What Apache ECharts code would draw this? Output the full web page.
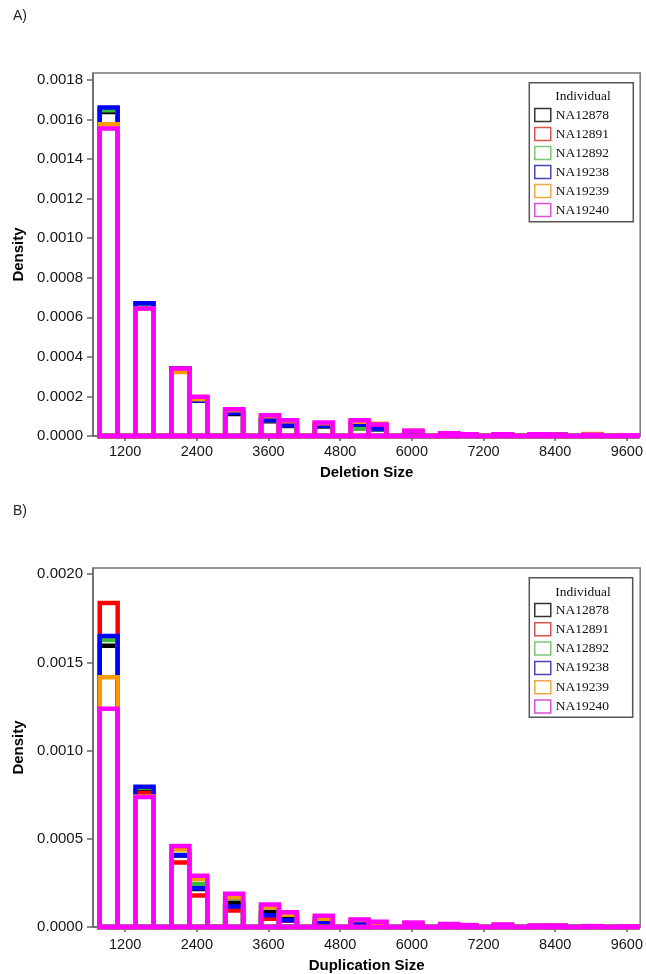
<!DOCTYPE html>
<html><head><meta charset="utf-8">
<script src="https://cdn.jsdelivr.net/npm/echarts@6/dist/echarts.min.js"></script>
<style>html,body{margin:0;padding:0;background:#fff}#c{width:646px;height:974px}</style>
</head><body><div id="c"></div><script>
const individuals = ['NA12878','NA12891','NA12892','NA19238','NA19239','NA19240'];
const colors = ['#000000','#ff0000','#3cb93c','#0000ff','#ff9900','#ff00ff'];
const legendColors = ['#333333','#d9534f','#7cc47c','#4646b4','#f0a848','#d94fd9'];
const binWidth = 300;
const binStarts = [775,1075,1375,1675,1975,2275,2575,2875,3175,3475,3775,4075,4375,4675,4975,5275,5575,5875,6175,6475,6775,7075,7375,7675,7975,8275,8575,8875,9175,9475];
const xTicks = [1200,2400,3600,4800,6000,7200,8400,9600];
const yTicksA = [0,0.0002,0.0004,0.0006,0.0008,0.0010,0.0012,0.0014,0.0016,0.0018];
const yTicksB = [0,0.0005,0.0010,0.0015,0.0020];

// Deletion size densities (panel A)
const delNA12878 = [0.001638,0,0.000662,0,0.000340,0.000178,0,0.000111,0,0.000075,0.000050,0,0.000048,0,0.000056,0.000033,0,0.000022,0,0.000012,0.000008,0,0.000008,0,0.000007,0.000006,0,0.000005,0,0.000002];
const delNA12891 = [0.001652,0,0.000668,0,0.000342,0.000195,0,0.000130,0,0.000100,0.000075,0,0.000065,0,0.000071,0.000055,0,0.000025,0,0.000013,0.000009,0,0.000009,0,0.000008,0.000006,0,0.000008,0,0.000003];
const delNA12892 = [0.001647,0,0.000665,0,0.000340,0.000185,0,0.000118,0,0.000080,0.000055,0,0.000050,0,0.000037,0.000033,0,0.000022,0,0.000012,0.000008,0,0.000008,0,0.000007,0.000006,0,0.000005,0,0.000002];
const delNA19238 = [0.001660,0,0.000671,0,0.000340,0.000180,0,0.000116,0,0.000079,0.000054,0,0.000051,0,0.000058,0.000035,0,0.000022,0,0.000012,0.000008,0,0.000008,0,0.000007,0.000006,0,0.000005,0,0.000002];
const delNA19239 = [0.001576,0,0.000645,0,0.000324,0.000186,0,0.000130,0,0.000100,0.000075,0,0.000065,0,0.000072,0.000062,0,0.000025,0,0.000013,0.000009,0,0.000009,0,0.000008,0.000006,0,0.000010,0,0.000003];
const delNA19240 = [0.001554,0,0.000644,0,0.000341,0.000199,0,0.000135,0,0.000105,0.000079,0,0.000068,0,0.000079,0.000058,0,0.000026,0,0.000014,0.000009,0,0.000009,0,0.000009,0.000007,0,0.000006,0,0.000003];

// Duplication size densities (panel B)
const dupNA12878 = [0.001594,0,0.000772,0,0.000405,0.000215,0,0.000137,0,0.000084,0.000060,0,0.000028,0,0.000025,0.000020,0,0.000018,0,0.000012,0.000008,0,0.000009,0,0.000006,0.000006,0,0.000004,0,0.000002];
const dupNA12891 = [0.001837,0,0.000760,0,0.000366,0.000178,0,0.000094,0,0.000047,0.000036,0,0.000027,0,0.000026,0.000022,0,0.000020,0,0.000012,0.000009,0,0.000011,0,0.000006,0.000006,0,0.000004,0,0.000002];
const dupNA12892 = [0.001627,0,0.000790,0,0.000410,0.000244,0,0.000165,0,0.000110,0.000070,0,0.000045,0,0.000035,0.000025,0,0.000020,0,0.000013,0.000009,0,0.000010,0,0.000006,0.000006,0,0.000004,0,0.000002];
const dupNA19238 = [0.001650,0,0.000795,0,0.000407,0.000219,0,0.000116,0,0.000066,0.000038,0,0.000028,0,0.000020,0.000018,0,0.000015,0,0.000010,0.000007,0,0.000008,0,0.000005,0.000005,0,0.000003,0,0.000002];
const dupNA19239 = [0.001416,0,0.000740,0,0.000440,0.000272,0,0.000169,0,0.000112,0.000071,0,0.000047,0,0.000040,0.000026,0,0.000022,0,0.000014,0.000010,0,0.000012,0,0.000007,0.000007,0,0.000004,0,0.000003];
const dupNA19240 = [0.001237,0,0.000737,0,0.000459,0.000291,0,0.000188,0,0.000128,0.000084,0,0.000064,0,0.000043,0.000030,0,0.000025,0,0.000017,0.000011,0,0.000014,0,0.000008,0.000008,0,0.000005,0,0.000003];

const delSeries = [delNA12878, delNA12891, delNA12892, delNA19238, delNA19239, delNA19240];
const dupSeries = [dupNA12878, dupNA12891, dupNA12892, dupNA19238, dupNA19239, dupNA19240];

const chart = echarts.init(document.getElementById('c'), null, {renderer: 'canvas'});

function renderBin(color) {
  return function (params, api) {
    const b = api.coord([api.value(0), 0]);
    const t = api.coord([api.value(1), api.value(2)]);
    return {
      type: 'polygon',
      shape: { points: [[b[0], b[1]], [b[0], t[1]], [t[0], t[1]], [t[0], b[1]]] },
      style: { fill: 'none', stroke: color, lineWidth: 4.5, lineJoin: 'miter' }
    };
  };
}

function makeSeries(values, i, panel) {
  return {
    type: 'custom',
    name: individuals[i],
    xAxisIndex: panel, yAxisIndex: panel,
    itemStyle: { color: colors[i] },
    renderItem: renderBin(colors[i]),
    encode: { x: [0, 1], y: 2 },
    data: binStarts.map((s, k) => [s, s + binWidth, values[k]]),
    silent: true
  };
}

const labelFont = { fontFamily: 'Liberation Sans', fontSize: 14.5, color: '#151515' };
const nameFont = { fontFamily: 'Liberation Sans', fontSize: 15, fontWeight: 'bold', color: '#000' };
const axisLineStyle = { color: '#666', width: 1.5 };

function xAxis(idx, name, margin, gap) {
  return {
    type: 'value', gridIndex: idx, min: 662, max: 9823,
    name: name, nameLocation: 'middle', nameGap: gap, nameTextStyle: nameFont,
    axisLine: { show: true, lineStyle: axisLineStyle },
    axisTick: { show: true, length: 5, lineStyle: axisLineStyle, customValues: xTicks },
    axisLabel: Object.assign({ margin: margin, customValues: xTicks, formatter: v => String(v) }, labelFont),
    splitLine: { show: false }
  };
}
function yAxis(idx, max, ticks) {
  return {
    type: 'value', gridIndex: idx, min: 0, max: max,
    name: 'Density', nameLocation: 'middle', nameGap: 66, nameTextStyle: nameFont,
    axisLine: { show: true, lineStyle: axisLineStyle },
    axisTick: { show: true, length: 6, lineStyle: axisLineStyle, customValues: ticks },
    axisLabel: Object.assign({ margin: 10, customValues: ticks, formatter: v => v.toFixed(4) }, labelFont, { fontSize: 15 }),
    splitLine: { show: false }
  };
}

function legend(top, gap) {
  return {
    orient: 'vertical', left: 534, top: top, itemWidth: 16, itemHeight: 13, itemGap: gap, padding: 0,
    selectedMode: false, z: 10,
    data: individuals.map((n, i) => ({ name: n, icon: 'rect', itemStyle: { color: '#ffffff', borderColor: legendColors[i], borderWidth: 1.5 } })),
    textStyle: { fontFamily: 'Liberation Serif', fontSize: 13.5, color: '#111', lineHeight: 15 }
  };
}

const series = [];
delSeries.forEach((v, i) => series.push(makeSeries(v, i, 0)));
dupSeries.forEach((v, i) => series.push(makeSeries(v, i, 1)));

chart.setOption({
  animation: false,
  backgroundColor: '#ffffff',
  grid: [
    { left: 93, right: 3.5, top: 73, height: 363, show: true, borderColor: '#777', borderWidth: 1.5, containLabel: false },
    { left: 93, right: 3.5, top: 568, height: 362, show: true, borderColor: '#777', borderWidth: 1.5, containLabel: false }
  ],
  xAxis: [xAxis(0, 'Deletion Size', 8, 29), xAxis(1, 'Duplication Size', 10, 31)],
  yAxis: [yAxis(0, 0.001835, yTicksA), yAxis(1, 0.002035, yTicksB)],
  legend: [legend(107.5, 4), legend(602.5, 4.3)],
  graphic: [
    { type: 'rect', shape: { x: 529.3, y: 82.7, width: 104, height: 139 }, style: { fill: '#fff', stroke: '#555', lineWidth: 1.5 }, z: 5 },
    { type: 'text', x: 583, y: 96.7, style: { text: 'Individual', fontFamily: 'Liberation Serif', fontSize: 13.5, fill: '#111', align: 'center', verticalAlign: 'middle' }, z: 6 },
    { type: 'rect', shape: { x: 529.3, y: 577.7, width: 103.4, height: 139.6 }, style: { fill: '#fff', stroke: '#555', lineWidth: 1.5 }, z: 5 },
    { type: 'text', x: 583, y: 592.7, style: { text: 'Individual', fontFamily: 'Liberation Serif', fontSize: 13.5, fill: '#111', align: 'center', verticalAlign: 'middle' }, z: 6 },
    { type: 'text', x: 13, y: 16.5, style: { text: 'A)', fontFamily: 'Liberation Sans', fontSize: 14, fill: '#222', align: 'left', verticalAlign: 'middle' }, z: 6 },
    { type: 'text', x: 13, y: 511, style: { text: 'B)', fontFamily: 'Liberation Sans', fontSize: 14, fill: '#222', align: 'left', verticalAlign: 'middle' }, z: 6 }
  ],
  series: series
});
</script></body></html>
